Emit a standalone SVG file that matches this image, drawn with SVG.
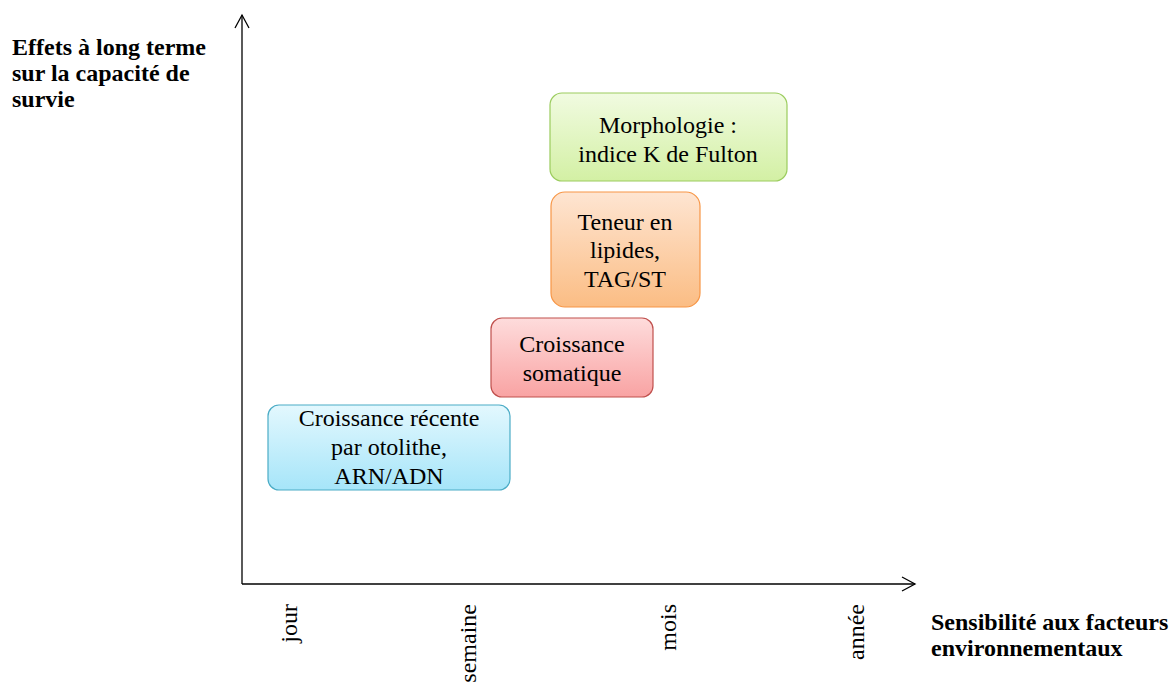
<svg xmlns="http://www.w3.org/2000/svg" width="1172" height="682" viewBox="0 0 1172 682">
<style>
.t{font-family:"Liberation Serif","Times New Roman",serif;font-size:24px;fill:#000;text-anchor:middle}
.b{font-family:"Liberation Serif","Times New Roman",serif;font-size:24px;font-weight:bold;fill:#000}
.r{font-family:"Liberation Serif","Times New Roman",serif;font-size:24px;fill:#000;text-anchor:end}
.ax{stroke:#000;stroke-width:1.3;fill:none}
</style>
<defs>
<linearGradient id="gG" x1="0" y1="0" x2="0" y2="1"><stop offset="0" stop-color="#f1fbe1"/><stop offset="1" stop-color="#d3f0a4"/></linearGradient>
<linearGradient id="gO" x1="0" y1="0" x2="0" y2="1"><stop offset="0" stop-color="#fee5d2"/><stop offset="1" stop-color="#fbbd84"/></linearGradient>
<linearGradient id="gR" x1="0" y1="0" x2="0" y2="1"><stop offset="0" stop-color="#fedcdc"/><stop offset="1" stop-color="#f9a3a3"/></linearGradient>
<linearGradient id="gB" x1="0" y1="0" x2="0" y2="1"><stop offset="0" stop-color="#e3f8fe"/><stop offset="1" stop-color="#a6e5f9"/></linearGradient>
</defs>
<g id="connectors">
<path class="ax" d="M242,584 V15"/>
<path class="ax" d="M235,28 L242,15 L249,28"/>
<path class="ax" d="M242,584 H915"/>
<path class="ax" d="M902,577 L915,584 L902,591"/>
</g>
<g id="ylabel">
<text class="b" x="12" y="55">Effets à long terme</text>
<text class="b" x="12" y="81">sur la capacité de</text>
<text class="b" x="12" y="107">survie</text>
</g>
<g id="xlabel">
<text class="b" x="931" y="630">Sensibilité aux facteurs</text>
<text class="b" x="931" y="656">environnementaux</text>
</g>
<g id="ticks">
<text class="r" transform="translate(297,604) rotate(-90)">jour</text>
<text class="r" transform="translate(476,604) rotate(-90)">semaine</text>
<text class="r" transform="translate(676,604) rotate(-90)">mois</text>
<text class="r" transform="translate(864,604) rotate(-90)">année</text>
</g>
<g id="morphologie">
<rect x="550" y="93" width="237" height="88" rx="12" fill="url(#gG)" stroke="#9bcc5e" stroke-width="1.2"/>
<text class="t" x="668" y="133">Morphologie :</text>
<text class="t" x="668" y="162">indice K de Fulton</text>
</g>
<g id="lipides">
<rect x="551" y="192" width="149" height="115" rx="14" fill="url(#gO)" stroke="#f79646" stroke-width="1.2"/>
<text class="t" x="625" y="230">Teneur en</text>
<text class="t" x="625" y="258">lipides,</text>
<text class="t" x="625" y="287">TAG/ST</text>
</g>
<g id="somatique">
<rect x="491" y="318" width="162" height="79" rx="11" fill="url(#gR)" stroke="#c0504d" stroke-width="1.2"/>
<text class="t" x="572" y="352">Croissance</text>
<text class="t" x="572" y="381">somatique</text>
</g>
<g id="otolithe">
<rect x="268" y="405" width="242" height="85" rx="11" fill="url(#gB)" stroke="#4bacc6" stroke-width="1.2"/>
<text class="t" x="389" y="426">Croissance récente</text>
<text class="t" x="389" y="455">par otolithe,</text>
<text class="t" x="389" y="484">ARN/ADN</text>
</g>
</svg>
